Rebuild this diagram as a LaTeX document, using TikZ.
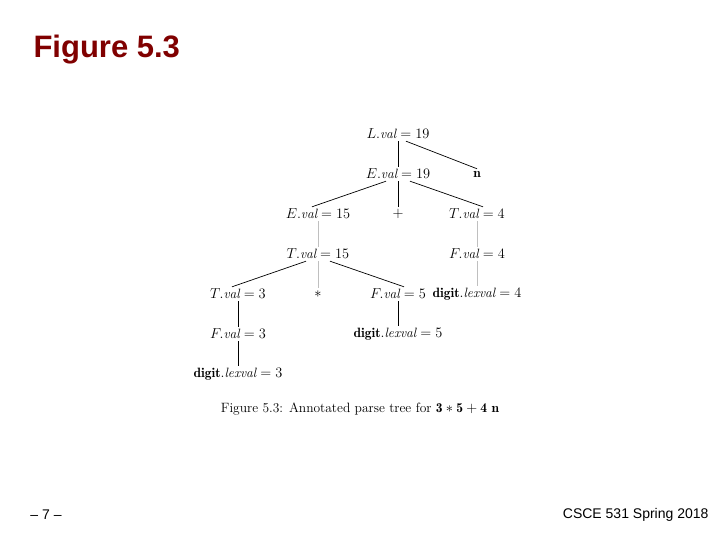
\documentclass[tikz,border=0pt]{standalone}
\usepackage{fontspec}
\newfontfamily\arial{Liberation Sans}
\definecolor{titlered}{RGB}{128,0,0}
\begin{document}
\begin{tikzpicture}[x=1pt,y=-1pt,
  tn/.style={font=\fontsize{13.5}{16}\selectfont, inner sep=2pt},
  ed/.style={draw=black, line width=0.7pt},
  eg/.style={draw=gray!50, line width=0.7pt}]
\useasboundingbox (0,0) rectangle (720,540);
\node[font=\arial\bfseries\fontsize{31}{36}\selectfont, text=titlered, anchor=west] (title) at (30,50) {Figure 5.3};
\node[tn] (L) at (398,134) {$L.\mathit{val}=19$};
\node[tn] (E19) at (398,174) {$E.\mathit{val}=19$};
\node[tn] (n) at (477,174) {$\mathbf{n}$};
\node[tn] (E15) at (318,214) {$E.\mathit{val}=15$};
\node[tn] (plus) at (398,214) {$+$};
\node[tn] (T4) at (477,214) {$T.\mathit{val}=4$};
\node[tn] (T15) at (318,254) {$T.\mathit{val}=15$};
\node[tn] (F4) at (477,254) {$F.\mathit{val}=4$};
\node[tn] (T3) at (238,294) {$T.\mathit{val}=3$};
\node[tn] (star) at (318,294) {$*$};
\node[tn] (F5) at (398,294) {$F.\mathit{val}=5$};
\node[tn] (d4) at (477,294) {$\mathbf{digit}.\mathit{lexval}=4$};
\node[tn] (F3) at (238,334) {$F.\mathit{val}=3$};
\node[tn] (d5) at (398,334) {$\mathbf{digit}.\mathit{lexval}=5$};
\node[tn] (d3) at (238,374) {$\mathbf{digit}.\mathit{lexval}=3$};
\node[tn] (cap) at (360,409) {Figure 5.3: Annotated parse tree for $\mathbf{3*5+4\ n}$};
\draw[ed] (L.south) -- (E19.north);
\draw[ed] ([xshift=8pt]L.south) -- (n.north);
\draw[ed] ([xshift=-12pt]E19.south) -- ([xshift=-6pt]E15.north);
\draw[ed] (E19.south) -- (plus.north);
\draw[ed] ([xshift=12pt]E19.south) -- ([xshift=6pt]T4.north);
\draw[eg] (E15.south) -- (T15.north);
\draw[eg] (T4.south) -- (F4.north);
\draw[eg] (F4.south) -- (d4.north);
\draw[ed] ([xshift=-12pt]T15.south) -- ([xshift=-6pt]T3.north);
\draw[eg] (T15.south) -- (star.north);
\draw[ed] ([xshift=12pt]T15.south) -- ([xshift=6pt]F5.north);
\draw[ed] (T3.south) -- (F3.north);
\draw[ed] (F3.south) -- (d3.north);
\draw[ed] (F5.south) -- (d5.north);
\node[font=\arial\fontsize{14}{16}\selectfont] (pg) at (46,515) {– 7 –};
\node[font=\arial\fontsize{14}{16}\selectfont, anchor=east] (foot) at (712,515) {CSCE 531 Spring 2018};
\end{tikzpicture}
\end{document}
